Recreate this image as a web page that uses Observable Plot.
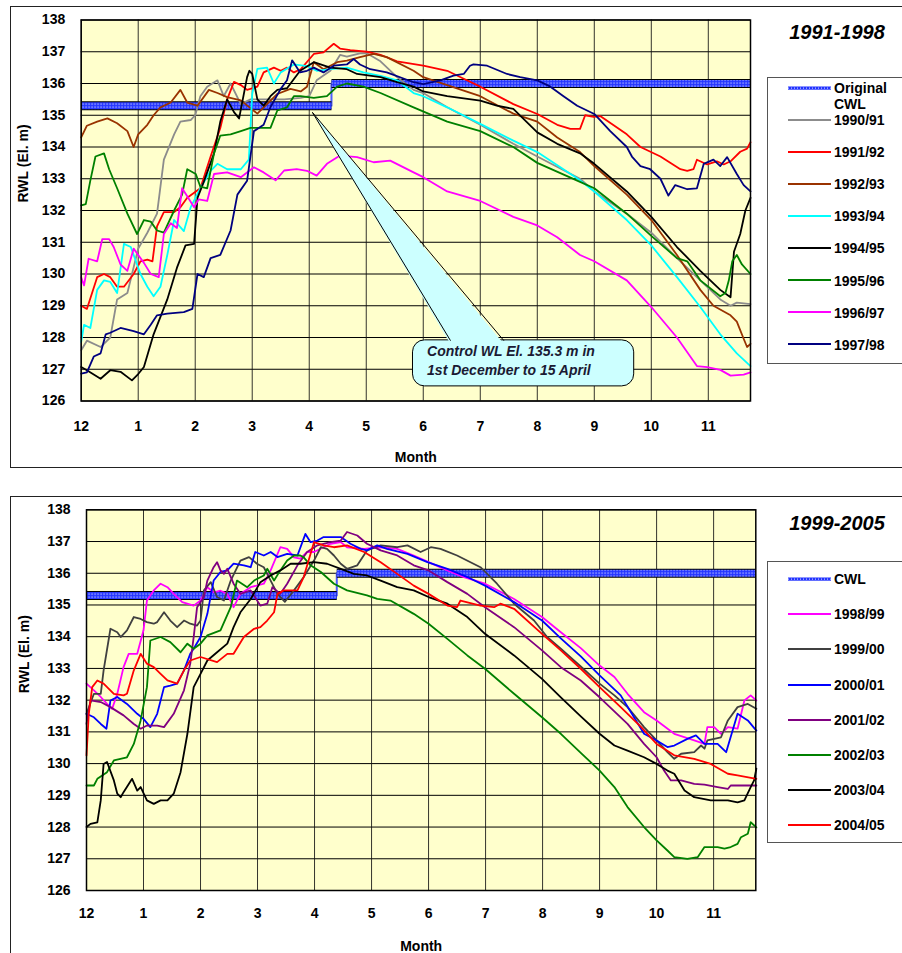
<!DOCTYPE html>
<html>
<head>
<meta charset="utf-8">
<script src="https://cdn.jsdelivr.net/npm/d3@7"></script>
<script src="https://cdn.jsdelivr.net/npm/@observablehq/plot@0.6"></script>
<style>
  html, body { margin: 0; padding: 0; background: #fff; }
  body { font-family: "Liberation Sans", Arial, sans-serif; }
  #page { position: relative; width: 902px; height: 953px; overflow: hidden; background: #fff; }
  .abs { position: absolute; }
  .outer { position: absolute; border: 1px solid #222; box-sizing: border-box; }
  .legend { position: absolute; border: 1px solid #555; box-sizing: border-box; background: #fff; }
  .ltxt { position: absolute; font-weight: bold; font-size: 14px; line-height: 13px; color: #000; white-space: nowrap; }
  .title { position: absolute; font-weight: bold; font-style: italic; font-size: 20px; line-height: 22px; text-align: center; width: 160px; }
</style>
</head>
<body>
<div id="page">
  <div id="topPlot" class="abs" style="left:0;top:0;width:760px;height:470px"></div>
  <div id="botPlot" class="abs" style="left:0;top:490px;width:765px;height:463px"></div>
  <div class="outer" style="left:10px;top:6px;width:900px;height:462px"></div>
  <div class="outer" style="left:10px;top:496px;width:900px;height:470px"></div>
  <div class="title" style="left:757px;top:21px">1991-1998</div>
  <div class="title" style="left:757px;top:512px">1999-2005</div>
  <div id="legTop" class="legend" style="left:767px;top:77px;width:150px;height:287px"></div>
  <div id="legBot" class="legend" style="left:767px;top:561px;width:150px;height:282px"></div>
</div>
<script>
// ---------- axis / tick data ----------
const monthTicks = [0,1,2,3,4,5,6,7,8,9,10,11];
const monthLabels = ["12","1","2","3","4","5","6","7","8","9","10","11"];
const levelTicks = [126,127,128,129,130,131,132,133,134,135,136,137,138];

// Control water level: 135.3 m from 1 Dec to 15 Apr, 136.0 m afterwards
const cwlMonths = [0, 4.39, 11.74];
const cwlLevels = [135.3, 136.0];

// ---------- 1991-1998 series: [month position, RWL] ----------
const s9091 = [[0,127.6],[0.1,127.9],[0.34,127.7],[0.51,128.0],[0.63,129.2],[0.81,129.4],[1.0,130.8],[1.16,131.3],[1.33,131.9],[1.45,133.6],[1.63,134.4],[1.74,134.8],[1.92,134.85],[2.0,135.0],[2.09,135.6],[2.21,135.9],[2.39,136.1],[2.5,135.6],[2.62,136.0],[2.8,135.35],[2.97,135.5],[3.26,135.5],[3.56,135.5],[3.85,135.55],[4.0,135.6],[4.13,136.1],[4.37,136.4],[4.54,136.9],[4.66,136.85],[4.89,136.95],[5.01,136.95],[5.25,136.7],[5.54,136.2],[5.83,135.8],[6.0,135.7],[6.42,135.25],[7.0,134.7],[7.58,134.1],[8.0,133.7],[8.75,133.0],[9.0,132.6],[9.57,131.9],[10.0,131.3],[10.45,130.5],[10.86,129.8],[11.21,129.2],[11.39,129.0],[11.5,129.1],[11.74,129.05]];
const s9192 = [[0,129.0],[0.1,128.9],[0.28,129.9],[0.4,130.0],[0.51,129.9],[0.63,129.6],[0.75,129.6],[0.92,130.0],[1.04,130.4],[1.16,130.45],[1.25,130.4],[1.33,131.5],[1.45,131.95],[1.63,131.95],[1.74,132.1],[1.86,132.4],[2.09,132.7],[2.27,133.7],[2.44,134.6],[2.56,135.5],[2.68,136.05],[2.8,135.95],[2.91,135.8],[3.09,135.9],[3.2,136.35],[3.38,136.5],[3.5,136.4],[3.61,136.5],[3.73,136.35],[3.85,136.45],[4.08,136.93],[4.25,136.98],[4.43,137.25],[4.54,137.1],[4.72,137.05],[5.01,137.0],[5.25,136.9],[5.54,136.7],[6.0,136.56],[6.42,136.4],[6.71,136.15],[7.0,135.9],[7.58,135.35],[8.0,135.04],[8.35,134.7],[8.58,134.57],[8.75,134.57],[8.84,135.0],[8.99,134.95],[9.11,134.97],[9.57,134.4],[9.81,134.0],[10.16,133.7],[10.51,133.3],[10.63,133.25],[10.74,133.3],[10.8,133.6],[10.98,133.45],[11.15,133.55],[11.27,133.45],[11.39,133.55],[11.56,133.85],[11.68,133.95],[11.74,134.15]];
const s9293 = [[0,134.3],[0.1,134.67],[0.28,134.8],[0.46,134.9],[0.63,134.75],[0.81,134.5],[0.92,134.0],[1.0,134.4],[1.16,134.7],[1.27,135.0],[1.39,135.25],[1.57,135.4],[1.74,135.8],[1.86,135.4],[2.04,135.3],[2.24,135.8],[2.39,135.7],[2.56,135.57],[2.8,135.47],[3.09,135.05],[3.2,135.25],[3.44,135.67],[3.67,135.83],[3.85,135.75],[3.96,135.9],[4.08,136.67],[4.25,136.45],[4.49,136.67],[4.66,136.72],[4.89,136.83],[5.13,136.93],[5.36,136.83],[5.83,136.4],[6.0,136.2],[6.42,135.95],[7.0,135.6],[7.58,135.05],[8.0,134.8],[8.35,134.3],[8.75,133.84],[9.0,133.4],[9.57,132.5],[10.0,131.7],[10.45,130.6],[10.86,129.5],[11.09,129.0],[11.39,128.7],[11.5,128.5],[11.62,127.96],[11.68,127.7],[11.74,127.8]];
const s9394 = [[0,127.86],[0.05,128.4],[0.16,128.3],[0.28,129.5],[0.4,129.8],[0.51,129.75],[0.63,129.4],[0.75,130.95],[0.87,130.85],[1.04,130.0],[1.16,129.6],[1.27,129.3],[1.39,129.6],[1.51,130.6],[1.63,131.7],[1.8,131.35],[1.92,132.1],[2.09,132.7],[2.27,133.25],[2.39,133.47],[2.56,133.3],[2.8,133.3],[2.94,133.6],[3.0,135.67],[3.09,136.46],[3.26,136.5],[3.38,136.0],[3.5,136.35],[3.73,136.6],[3.96,136.55],[4.13,136.4],[4.37,136.45],[4.66,136.5],[4.95,136.35],[5.25,136.24],[5.54,136.1],[5.83,135.7],[6.0,135.6],[6.42,135.25],[7.0,134.73],[7.58,134.2],[8.0,133.84],[8.75,132.95],[9.0,132.6],[9.57,131.7],[10.0,130.9],[10.45,129.9],[10.86,128.96],[11.21,128.1],[11.5,127.5],[11.74,127.1]];
const s9495 = [[0,127.07],[0.1,126.97],[0.34,126.7],[0.51,126.97],[0.69,126.92],[0.89,126.65],[1.0,126.85],[1.1,127.07],[1.27,128.1],[1.51,129.2],[1.68,130.2],[1.83,130.9],[1.98,130.95],[2.04,132.4],[2.15,132.9],[2.33,133.8],[2.44,134.8],[2.56,135.5],[2.68,135.1],[2.77,134.9],[2.91,136.2],[2.95,136.4],[3.0,136.3],[3.09,135.5],[3.2,135.3],[3.32,135.6],[3.44,135.8],[3.61,135.85],[3.84,136.4],[4.08,136.67],[4.37,136.5],[4.66,136.45],[4.84,136.3],[5.25,136.2],[5.54,136.04],[5.83,135.9],[6.0,135.75],[6.42,135.6],[7.0,135.46],[7.29,135.3],[7.58,135.2],[8.0,134.46],[8.35,134.1],[8.75,133.8],[9.0,133.47],[9.57,132.6],[10.0,131.8],[10.45,130.85],[10.86,130.1],[11.21,129.5],[11.39,129.27],[11.45,130.7],[11.56,131.26],[11.65,132.0],[11.74,132.4]];
const s9596 = [[0,132.16],[0.08,132.2],[0.16,132.94],[0.25,133.7],[0.4,133.8],[0.49,133.3],[0.63,132.7],[0.81,131.9],[0.98,131.26],[1.1,131.7],[1.22,131.65],[1.33,131.37],[1.45,131.3],[1.63,132.0],[1.77,132.5],[1.86,133.3],[2.01,133.15],[2.09,132.75],[2.21,132.7],[2.33,133.8],[2.44,134.36],[2.62,134.4],[2.8,134.5],[2.97,134.6],[3.15,134.6],[3.32,134.6],[3.44,135.15],[3.61,135.25],[3.73,135.6],[3.85,135.6],[4.08,135.55],[4.31,135.6],[4.49,135.9],[4.66,136.0],[4.95,135.9],[5.25,135.7],[5.83,135.25],[6.42,134.8],[7.0,134.5],[7.58,134.0],[8.0,133.5],[8.75,132.9],[9.0,132.7],[9.57,131.9],[10.0,131.2],[10.45,130.5],[10.63,130.4],[10.86,129.8],[11.21,129.3],[11.3,129.4],[11.36,129.8],[11.42,130.4],[11.5,130.6],[11.59,130.3],[11.74,130.0]];
const s9697 = [[0,129.9],[0.05,129.64],[0.13,130.48],[0.28,130.4],[0.37,131.1],[0.49,131.1],[0.57,130.85],[0.69,130.3],[0.81,130.1],[0.92,130.8],[1.1,130.35],[1.22,130.0],[1.36,129.9],[1.45,131.26],[1.57,131.6],[1.68,131.45],[1.77,132.7],[1.86,132.45],[1.98,132.1],[2.06,132.35],[2.21,132.3],[2.33,133.15],[2.56,133.2],[2.8,133.05],[3.03,133.36],[3.2,133.2],[3.41,132.95],[3.56,133.26],[3.78,133.3],[3.96,133.25],[4.13,133.1],[4.31,133.47],[4.54,133.73],[4.84,133.68],[5.13,133.52],[5.42,133.57],[5.83,133.2],[6.0,133.05],[6.42,132.6],[7.0,132.3],[7.58,131.8],[8.0,131.53],[8.35,131.16],[8.75,130.6],[9.0,130.4],[9.57,129.8],[10.0,128.96],[10.45,128.0],[10.8,127.1],[10.98,127.07],[11.21,126.98],[11.39,126.8],[11.62,126.83],[11.74,126.9]];
const s9798 = [[0,126.86],[0.1,126.9],[0.22,127.4],[0.34,127.5],[0.43,128.1],[0.51,128.15],[0.69,128.3],[0.92,128.2],[1.1,128.1],[1.22,128.4],[1.33,128.7],[1.51,128.75],[1.8,128.8],[1.95,128.9],[2.04,130.0],[2.15,129.9],[2.27,130.5],[2.44,130.6],[2.62,131.37],[2.74,132.5],[2.91,132.94],[3.03,134.5],[3.2,134.7],[3.32,135.26],[3.5,135.83],[3.61,136.1],[3.7,136.73],[3.84,136.35],[3.96,136.4],[4.08,136.5],[4.25,136.35],[4.43,136.56],[4.66,136.6],[4.78,136.77],[4.89,136.6],[5.07,136.45],[5.36,136.35],[5.83,136.04],[6.0,135.98],[6.3,136.1],[6.53,136.25],[6.71,136.3],[6.82,136.56],[6.88,136.6],[7.12,136.56],[7.47,136.3],[7.7,136.2],[8.0,136.1],[8.23,135.9],[8.46,135.6],[8.7,135.3],[9.0,135.04],[9.28,134.5],[9.57,134.0],[9.66,133.7],[9.81,133.4],[9.98,133.3],[10.16,133.0],[10.3,132.47],[10.42,132.8],[10.63,132.67],[10.8,132.7],[10.92,133.47],[11.09,133.6],[11.21,133.4],[11.33,133.68],[11.5,133.15],[11.62,132.8],[11.74,132.6]];

// ---------- 1999-2005 series ----------
const s9899 = [[0,132.52],[0.13,132.31],[0.25,132.1],[0.36,131.88],[0.45,131.73],[0.54,132.2],[0.65,133.04],[0.74,133.46],[0.89,133.46],[1.0,134.2],[1.06,135.14],[1.18,135.46],[1.3,135.67],[1.42,135.56],[1.53,135.35],[1.68,135.09],[1.88,134.98],[2.0,135.14],[2.12,135.56],[2.23,135.4],[2.35,135.45],[2.47,135.35],[2.58,134.93],[2.7,135.35],[2.88,135.56],[3.11,135.67],[3.23,136.09],[3.4,136.82],[3.52,136.77],[3.64,136.5],[3.75,136.46],[3.87,136.67],[3.99,136.67],[4.28,136.93],[4.46,136.98],[4.57,136.82],[4.87,136.77],[5.16,136.82],[5.45,136.77],[5.74,136.56],[6.0,136.35],[6.33,136.09],[6.62,135.88],[6.99,135.67],[7.5,135.19],[7.99,134.62],[8.32,134.14],[8.67,133.64],[9.0,133.09],[9.26,132.73],[9.49,132.2],[9.78,131.62],[10.0,131.36],[10.31,130.94],[10.66,130.73],[10.84,130.62],[10.89,131.15],[11.01,131.15],[11.13,130.94],[11.25,131.15],[11.42,131.1],[11.54,131.99],[11.65,132.15],[11.75,131.99]];
const s9900 = [[0,131.57],[0.13,132.2],[0.25,132.2],[0.3,132.94],[0.42,134.25],[0.54,134.14],[0.6,133.99],[0.71,134.2],[0.83,134.62],[0.95,134.56],[1.06,134.46],[1.18,134.41],[1.24,134.46],[1.36,134.77],[1.47,134.51],[1.59,134.3],[1.71,134.51],[1.82,134.41],[1.94,134.35],[2.0,134.51],[2.06,135.46],[2.18,135.72],[2.29,135.25],[2.41,135.14],[2.53,135.77],[2.7,136.4],[2.85,136.51],[2.99,136.3],[3.11,136.19],[3.23,135.77],[3.35,135.35],[3.48,135.1],[3.64,135.46],[3.81,135.88],[3.99,136.4],[4.11,136.82],[4.22,136.77],[4.34,136.56],[4.46,136.3],[4.57,136.14],[4.75,136.25],[4.92,136.72],[5.16,136.88],[5.45,136.82],[5.63,136.88],[5.86,136.67],[6.04,136.82],[6.21,136.77],[6.5,136.56],[6.91,136.19],[7.2,135.67],[7.5,135.04],[7.85,134.51],[8.08,133.99],[8.32,133.62],[8.67,133.06],[9.0,132.52],[9.26,132.15],[9.49,131.78],[9.78,131.15],[10.0,130.73],[10.19,130.36],[10.31,130.15],[10.43,130.31],[10.66,130.36],[10.78,130.57],[10.84,130.47],[10.89,130.73],[11.13,130.83],[11.25,131.36],[11.42,131.78],[11.6,131.88],[11.75,131.73]];
const s0001 = [[0,131.57],[0.13,131.46],[0.25,131.25],[0.35,131.1],[0.42,131.99],[0.54,132.1],[0.71,131.88],[0.89,131.57],[1.0,131.41],[1.12,131.15],[1.24,131.57],[1.36,132.41],[1.47,132.46],[1.59,132.52],[1.71,132.94],[1.82,133.46],[1.88,133.62],[2.0,133.99],[2.12,134.72],[2.23,135.77],[2.35,136.04],[2.47,136.09],[2.58,136.3],[2.76,136.25],[2.88,136.19],[2.96,136.67],[3.11,136.56],[3.23,136.67],[3.35,136.51],[3.52,136.61],[3.7,136.56],[3.84,137.24],[3.93,136.98],[4.05,137.03],[4.16,137.14],[4.46,137.14],[4.63,136.93],[4.81,136.77],[4.92,136.72],[5.1,136.88],[5.27,136.77],[5.63,136.61],[5.98,136.35],[6.33,136.14],[6.68,135.88],[6.99,135.61],[7.5,135.09],[7.99,134.51],[8.32,133.95],[8.67,133.38],[9.0,132.78],[9.37,132.15],[9.78,130.94],[10.0,130.73],[10.19,130.52],[10.31,130.57],[10.54,130.78],[10.69,130.89],[10.84,130.62],[11.07,130.62],[11.22,130.36],[11.42,131.57],[11.6,131.36],[11.75,131.04]];
const s0102 = [[0,131.25],[0.07,131.99],[0.25,131.94],[0.42,131.78],[0.65,131.52],[0.83,131.25],[0.95,131.1],[1.06,131.2],[1.24,131.2],[1.36,131.15],[1.53,131.57],[1.71,132.31],[1.82,133.15],[1.88,133.99],[1.94,134.93],[2.06,135.25],[2.12,135.77],[2.23,136.19],[2.29,136.35],[2.35,136.09],[2.41,135.98],[2.47,136.14],[2.58,135.67],[2.7,135.35],[2.88,135.46],[3.05,134.98],[3.17,135.04],[3.26,135.56],[3.4,135.35],[3.52,135.67],[3.7,136.25],[3.87,136.67],[4.05,136.88],[4.28,136.98],[4.46,137.03],[4.57,137.3],[4.75,137.19],[4.92,136.93],[5.16,136.72],[5.45,136.56],[5.74,136.25],[6.0,136.09],[6.33,135.72],[6.68,135.35],[6.99,134.93],[7.5,134.3],[7.99,133.57],[8.32,133.04],[8.67,132.62],[9.0,132.09],[9.49,131.25],[9.78,130.62],[10.0,130.2],[10.13,129.78],[10.25,129.47],[10.43,129.47],[10.66,129.36],[10.84,129.34],[11.07,129.26],[11.25,129.2],[11.3,129.31],[11.6,129.31],[11.75,129.31]];
const s0203 = [[0,129.31],[0.13,129.31],[0.19,129.52],[0.36,129.73],[0.48,130.1],[0.71,130.2],[0.83,130.62],[0.95,131.36],[1.06,132.41],[1.12,133.88],[1.3,133.99],[1.47,133.83],[1.65,133.51],[1.77,133.78],[1.88,133.62],[2.0,133.78],[2.12,134.04],[2.35,134.2],[2.53,134.93],[2.64,135.77],[2.82,135.56],[2.94,135.77],[3.11,135.93],[3.17,136.14],[3.29,135.77],[3.4,136.09],[3.52,136.4],[3.64,136.56],[3.75,136.56],[3.81,136.5],[3.93,136.25],[4.11,136.04],[4.34,135.67],[4.57,135.46],[4.92,135.3],[5.1,135.19],[5.33,135.14],[5.74,134.72],[6.0,134.41],[6.33,133.93],[6.68,133.41],[6.99,132.99],[7.5,132.2],[7.99,131.46],[8.32,130.94],[8.67,130.34],[9.0,129.78],[9.26,129.26],[9.49,128.63],[9.78,128.0],[10.0,127.58],[10.19,127.26],[10.31,127.05],[10.54,127.0],[10.72,127.05],[10.84,127.37],[11.07,127.37],[11.19,127.32],[11.3,127.37],[11.42,127.47],[11.48,127.68],[11.6,127.79],[11.65,128.15],[11.75,127.99]];
const s0304 = [[0,128.0],[0.07,128.1],[0.19,128.15],[0.25,128.84],[0.3,129.99],[0.36,130.05],[0.48,129.47],[0.54,129.05],[0.6,128.94],[0.65,129.1],[0.8,129.52],[0.89,129.15],[0.95,129.26],[1.06,128.84],[1.18,128.73],[1.3,128.84],[1.42,128.84],[1.53,129.05],[1.65,129.73],[1.77,130.94],[1.88,132.41],[2.0,132.83],[2.12,133.25],[2.29,133.51],[2.47,133.78],[2.58,134.3],[2.7,134.77],[2.88,135.19],[3.05,135.72],[3.23,135.93],[3.4,136.09],[3.58,136.3],[3.75,136.3],[3.99,136.35],[4.22,136.3],[4.46,136.14],[4.69,135.98],[4.92,135.93],[5.16,135.77],[5.45,135.56],[5.74,135.46],[6.0,135.25],[6.33,135.04],[6.68,134.62],[6.99,134.09],[7.5,133.41],[7.99,132.67],[8.32,132.09],[8.67,131.49],[9.0,130.94],[9.26,130.57],[9.49,130.41],[9.78,130.2],[10.0,129.99],[10.19,129.78],[10.31,129.68],[10.49,129.15],[10.66,128.94],[10.95,128.84],[11.25,128.84],[11.42,128.78],[11.54,128.84],[11.65,129.26],[11.71,129.47],[11.75,129.84]];
const s0405 = [[0,130.26],[0.04,131.57],[0.1,132.41],[0.19,132.62],[0.3,132.52],[0.48,132.2],[0.65,132.15],[0.71,132.2],[0.83,132.94],[0.95,133.46],[1.06,133.15],[1.18,133.04],[1.3,132.83],[1.42,132.62],[1.59,132.52],[1.71,132.94],[1.82,133.25],[2.0,133.36],[2.29,133.2],[2.47,133.46],[2.58,133.46],[2.76,133.99],[2.94,134.25],[3.05,134.3],[3.17,134.51],[3.29,134.77],[3.35,135.35],[3.46,135.46],[3.7,135.46],[3.81,135.88],[3.99,136.98],[4.16,136.88],[4.34,136.82],[4.57,136.88],[4.87,136.67],[5.16,136.35],[5.45,135.98],[5.74,135.61],[6.0,135.35],[6.33,134.98],[6.5,134.93],[6.56,135.14],[6.91,134.98],[7.15,134.93],[7.26,135.04],[7.5,134.88],[7.99,134.09],[8.32,133.57],[8.67,132.99],[9.0,132.41],[9.37,131.78],[9.73,131.15],[10.0,130.62],[10.31,130.26],[10.66,130.15],[10.95,129.99],[11.25,129.68],[11.42,129.63],[11.75,129.52]];

const topNames  = ["1990/91","1991/92","1992/93","1993/94","1994/95","1995/96","1996/97","1997/98"];
const topSeries = [s9091, s9192, s9293, s9394, s9495, s9596, s9697, s9798];
const botNames  = ["1998/99","1999/00","2000/01","2001/02","2002/03","2003/04","2004/05"];
const botSeries = [s9899, s9900, s0001, s0102, s0203, s0304, s0405];

// ---------- styles ----------
const topColors = ["#8c8c8c","#ff0000","#993300","#00ffff","#000000","#008000","#ff00ff","#000080"];
const botColors = ["#ff00ff","#404040","#0000ff","#800080","#008000","#000000","#ff0000"];
const FONT = "Liberation Sans, Arial, sans-serif";

function toRows(series, names) {
  const rows = [];
  series.forEach((s, i) => s.forEach(([m, v]) => rows.push({m, v, name: names[i]})));
  return rows;
}
function cwlRows() {
  return [
    {m: cwlMonths[0], v: cwlLevels[0], seg: 0}, {m: cwlMonths[1], v: cwlLevels[0], seg: 0},
    {m: cwlMonths[1], v: cwlLevels[1], seg: 1}, {m: cwlMonths[2], v: cwlLevels[1], seg: 1}
  ];
}

function makePlot(opts) {
  const rows = toRows(opts.series, opts.names);
  const cwl = cwlRows();
  const marks = [
    Plot.frame({fill: "#ffffcc", stroke: "none"}),
    Plot.ruleY(levelTicks, {stroke: "#000", strokeWidth: 1}),
    Plot.ruleX(monthTicks, {stroke: "#111", strokeWidth: 1, strokeOpacity: 0.85}),
    Plot.line([{m: cwlMonths[1], v: cwlLevels[0]}, {m: cwlMonths[1], v: cwlLevels[1]}], {x: "m", y: "v", stroke: "#4d5cff", strokeWidth: 2}),
    Plot.line(cwl, {x: "m", y: "v", z: "seg", stroke: "#000", strokeWidth: 9, strokeLinecap: "butt"}),
    Plot.line(cwl, {x: "m", y: "v", z: "seg", stroke: "url(#cwlpat)", strokeWidth: 7, strokeLinecap: "butt"}),
    Plot.line(rows, {x: "m", y: "v", z: "name", stroke: "name", strokeWidth: 1.8, strokeLinejoin: "round"}),
    ...(opts.extra || []),
    Plot.frame({stroke: "#000", strokeWidth: 1.5}),
    Plot.text(["RWL (El. m)"], {frameAnchor: "left", dx: opts.ylabDx, dy: opts.ylabDy, rotate: -90, fontSize: 14, fontWeight: "bold", fill: "#000"}),
    Plot.text(["Month"], {frameAnchor: "bottom", dy: opts.xlabDy, fontSize: 14, fontWeight: "bold", fill: "#000"})
  ];
  const chart = Plot.plot({
    width: opts.width, height: opts.height,
    marginLeft: opts.ml, marginRight: opts.mr, marginTop: opts.mt, marginBottom: opts.mb,
    style: {background: "transparent", fontFamily: FONT, fontSize: "14px", fontWeight: "bold", color: "#000", overflow: "visible"},
    x: {domain: [0, 11.74], ticks: monthTicks, tickFormat: (d) => monthLabels[d], tickSize: 0, tickPadding: opts.xPad, label: null},
    y: {domain: [126, 138], ticks: levelTicks, tickSize: 0, tickPadding: 16, label: null},
    color: {domain: opts.names, range: opts.colors},
    marks
  });
  // inject the hatched pattern for the CWL band
  const ns = "http://www.w3.org/2000/svg";
  const svg = chart.tagName.toLowerCase() === "svg" ? chart : chart.querySelector("svg");
  const defs = document.createElementNS(ns, "defs");
  defs.innerHTML = '<pattern id="cwlpat" patternUnits="userSpaceOnUse" width="3" height="3">' +
    '<rect width="3" height="3" fill="#2233ff"/><rect x="1" y="1" width="1.2" height="1.2" fill="#e8ecff"/></pattern>';
  svg.insertBefore(defs, svg.firstChild);
  return chart;
}

// callout for the top panel
const calloutBox = [{x1: 5.82, x2: 9.70, y1: 126.46, y2: 127.91}];
const calloutWedge = [[6.475, 127.8], [4.056, 135.09], [7.41, 127.8]];
const calloutEdges = [[6.475, 127.91], [4.056, 135.09], [7.41, 127.91]];
const calloutLines = [{m: 6.067, v: 127.56, t: "Control WL El. 135.3 m in"}, {m: 6.067, v: 126.96, t: "1st December to 15 April"}];

const topChart = makePlot({
  series: topSeries, names: topNames, colors: topColors,
  width: 760, height: 470, ml: 80.7, mr: 10, mt: 19.5, mb: 69.5, xPad: 20,
  ylabDx: -58, ylabDy: -8, xlabDy: 60.5,
  extra: [
    Plot.rect(calloutBox, {x1: "x1", x2: "x2", y1: "y1", y2: "y2", rx: 12, fill: "#ccffff", stroke: "#000", strokeWidth: 1}),
    Plot.line(calloutWedge, {x: (d) => d[0], y: (d) => d[1], fill: "#ccffff", stroke: "none"}),
    Plot.line(calloutEdges, {x: (d) => d[0], y: (d) => d[1], stroke: "#000", strokeWidth: 1}),
    Plot.text(calloutLines, {x: "m", y: "v", text: "t", textAnchor: "start", fontSize: 14, fontWeight: "bold", fontStyle: "italic", fill: "#1a1a33"})
  ]
});
document.getElementById("topPlot").appendChild(topChart);

const botChart = makePlot({
  series: botSeries, names: botNames, colors: botColors,
  width: 765, height: 463, ml: 86, mr: 9.7, mt: 19.3, mb: 63, xPad: 18,
  ylabDx: -62, ylabDy: -7, xlabDy: 60
});
document.getElementById("botPlot").appendChild(botChart);

// ---------- legends ----------
function swatch(parent, x, y, color, isCwl) {
  const ns = "http://www.w3.org/2000/svg";
  const s = document.createElementNS(ns, "svg");
  s.setAttribute("width", 44); s.setAttribute("height", 6);
  s.style.position = "absolute"; s.style.left = x + "px"; s.style.top = (y - 3) + "px";
  if (isCwl) {
    s.innerHTML = '<rect x="0" y="1.5" width="43" height="3.2" fill="#2233ff"/>' +
      '<line x1="0" y1="3.1" x2="43" y2="3.1" stroke="#dfe4ff" stroke-width="1" stroke-dasharray="1,2"/>';
  } else {
    s.innerHTML = '<line x1="0" y1="3" x2="43" y2="3" stroke="' + color + '" stroke-width="2"/>';
  }
  parent.appendChild(s);
}
function label(parent, x, yCenter, text) {
  const d = document.createElement("div");
  d.className = "ltxt";
  d.style.left = x + "px"; d.style.top = (yCenter - 6.5) + "px";
  d.textContent = text;
  parent.appendChild(d);
}
(function () {
  const page = document.getElementById("page");
  // top legend
  swatch(page, 788, 87.5, null, true);
  label(page, 834, 88, "Original");
  label(page, 834, 104, "CWL");
  topNames.forEach((n, i) => {
    const y = 119.5 + i * 32.1;
    swatch(page, 788, y, topColors[i], false);
    label(page, 834, y + 1, n);
  });
  // bottom legend
  swatch(page, 788, 579, null, true);
  label(page, 834, 579.5, "CWL");
  botNames.forEach((n, i) => {
    const y = 614.3 + i * 35.1;
    swatch(page, 788, y, botColors[i], false);
    label(page, 834, y + 0.5, n);
  });
})();
</script>
</body>
</html>
